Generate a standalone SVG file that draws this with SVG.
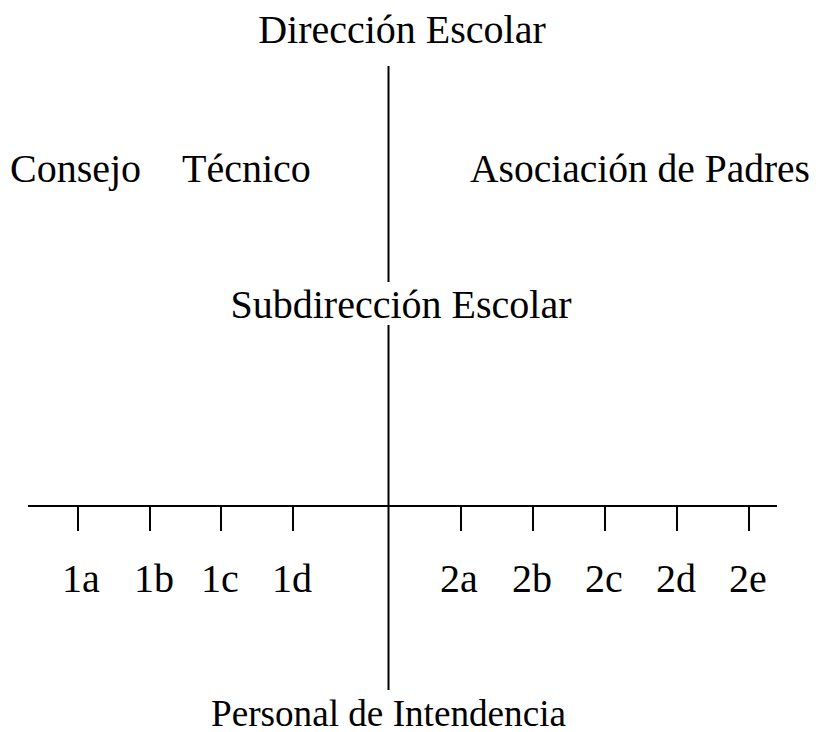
<svg xmlns="http://www.w3.org/2000/svg" width="819" height="732" viewBox="0 0 819 732">
<style>
text{font-family:"Liberation Serif","Times New Roman",serif;font-size:40px;fill:#000}
line{stroke:#000;stroke-width:2}
</style>
<rect width="819" height="732" fill="#fff"/>
<g id="connectors">
<line x1="388.5" y1="66" x2="388.5" y2="282"/>
<line x1="388.5" y1="325" x2="388.5" y2="690"/>
<line x1="28" y1="506" x2="777" y2="506"/>
<line x1="78" y1="506" x2="78" y2="531"/>
<line x1="150" y1="506" x2="150" y2="531"/>
<line x1="221" y1="506" x2="221" y2="531"/>
<line x1="293" y1="506" x2="293" y2="531"/>
<line x1="461" y1="506" x2="461" y2="531"/>
<line x1="533" y1="506" x2="533" y2="531"/>
<line x1="605" y1="506" x2="605" y2="531"/>
<line x1="677" y1="506" x2="677" y2="531"/>
<line x1="749" y1="506" x2="749" y2="531"/>
</g>
<g id="direccion"><text x="402" y="43" text-anchor="middle">Dirección Escolar</text></g>
<g id="consejo"><text x="10" y="182">Consejo</text><text x="182" y="182">Técnico</text></g>
<g id="asociacion"><text x="470" y="182" textLength="340" lengthAdjust="spacingAndGlyphs">Asociación de Padres</text></g>
<g id="subdireccion"><text x="401" y="318" text-anchor="middle">Subdirección Escolar</text></g>
<g id="n1a"><text x="81" y="592" text-anchor="middle">1a</text></g>
<g id="n1b"><text x="154" y="592" text-anchor="middle">1b</text></g>
<g id="n1c"><text x="220" y="592" text-anchor="middle">1c</text></g>
<g id="n1d"><text x="292" y="592" text-anchor="middle">1d</text></g>
<g id="n2a"><text x="459" y="592" text-anchor="middle">2a</text></g>
<g id="n2b"><text x="532" y="592" text-anchor="middle">2b</text></g>
<g id="n2c"><text x="604" y="592" text-anchor="middle">2c</text></g>
<g id="n2d"><text x="676" y="592" text-anchor="middle">2d</text></g>
<g id="n2e"><text x="748" y="592" text-anchor="middle">2e</text></g>
<g id="personal"><text x="211" y="726" style="font-size:38px" textLength="355" lengthAdjust="spacingAndGlyphs">Personal de Intendencia</text></g>
</svg>
